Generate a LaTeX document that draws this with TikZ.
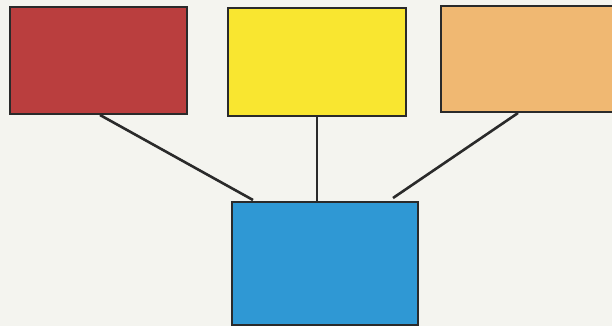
\documentclass[tikz,border=0pt]{standalone}
\usetikzlibrary{calc}
\definecolor{bg}{HTML}{F4F4EF}
\definecolor{edge}{HTML}{2A2A2A}
\definecolor{cred}{HTML}{BA3E3E}
\definecolor{cyellow}{HTML}{F9E630}
\definecolor{corange}{HTML}{F0B872}
\definecolor{cblue}{HTML}{2F98D4}
\begin{document}
\begin{tikzpicture}[x=1pt,y=-1pt,
  boxstyle/.style={draw=edge,line width=2.6pt,inner sep=0pt,outer sep=0pt},
  linkstyle/.style={draw=edge,line width=2.6pt}]
\useasboundingbox (0,0) rectangle (612,326);
\clip (0,0) rectangle (612,326);
\fill[bg] (0,0) rectangle (612,326);
\node[boxstyle,fill=cred,minimum width=177pt,minimum height=107pt] (red) at (98.5,60.5) {};
\node[boxstyle,fill=cyellow,minimum width=178pt,minimum height=108pt] (yellow) at (317,62) {};
\node[boxstyle,fill=corange,minimum width=178pt,minimum height=106pt] (orange) at (530,59) {};
\node[boxstyle,fill=cblue,minimum width=186pt,minimum height=123pt] (blue) at (325,263.5) {};
\draw[linkstyle] ($(red.south)+(1.5,1)$) -- ($(blue.north west)+(21,-2)$);
\draw[linkstyle] ($(yellow.south)+(0,1)$) -- (yellow.south |- blue.north);
\draw[linkstyle] ($(orange.south)+(-12,1)$) -- ($(blue.north east)+(-25,-4)$);
\end{tikzpicture}
\end{document}
